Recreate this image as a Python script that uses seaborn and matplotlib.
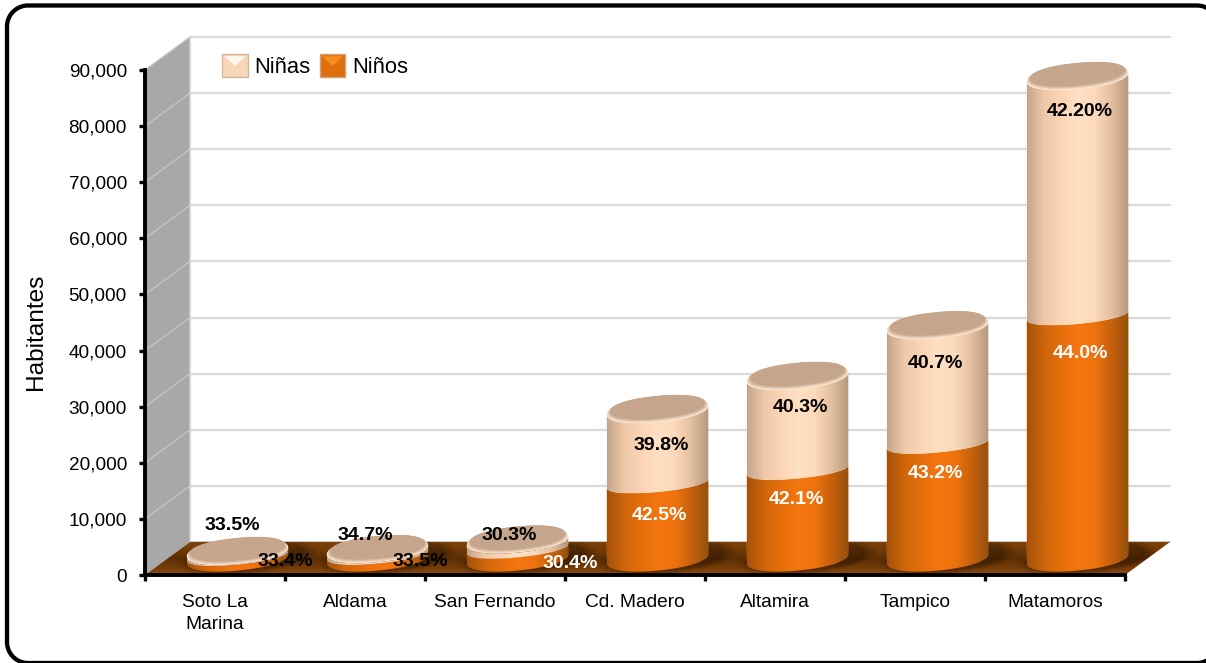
import numpy as np
import matplotlib
matplotlib.use("Agg")
import matplotlib.pyplot as plt
from matplotlib.colors import LinearSegmentedColormap, to_rgb
from matplotlib.legend_handler import HandlerBase
from matplotlib.patches import Patch, PathPatch, Polygon
from matplotlib.path import Path
from matplotlib.ticker import FuncFormatter
from matplotlib.transforms import IdentityTransform
import seaborn as sns

# ---- data ----
categories = ["Soto La\nMarina", "Aldama", "San Fernando", "Cd. Madero", "Altamira", "Tampico", "Matamoros"]
ninos = np.array([500, 700, 1800, 13460, 15860, 20500, 43400])
ninas = np.array([650, 800, 1400, 13000, 16500, 20900, 42400])
ninos_pct = ["33.4%", "33.5%", "30.4%", "42.5%", "42.1%", "43.2%", "44.0%"]
ninas_pct = ["33.5%", "34.7%", "30.3%", "39.8%", "40.3%", "40.7%", "42.20%"]
ninos_label_colors = ["black", "black", "white", "white", "white", "white", "white"]
series_names = ["Niñas", "Niños"]
y_ticks = np.arange(0, 90001, 10000)

# ---- layout (reference pixels, origin top left) ----
W, H = 1206, 663
PLOT_L, PLOT_R, PLOT_T, PLOT_B = 145, 1125, 70, 575
DEPTH_X, DEPTH_Y = 45, 33
ELL_A, ELL_B, ELL_TILT, ELL_POWER = 51, 12, np.deg2rad(5.5), 0.92
ninos_label_px = [(285, 561), (420, 561), (570, 563), (659, 515), (796, 499), (935, 474), (1080, 353)]
ninas_label_px = [(232, 526), (365, 536), (509, 535), (661, 446), (800, 407), (935, 363), (1080, 112)]

ORANGE_STOPS = ["#A5520A", "#CF660B", "#E56E0B", "#F5760F", "#EE720E", "#C5610C", "#93500F"]
PEACH_STOPS = ["#C4A58C", "#EEC8A8", "#FBD5B5", "#FFE0C3", "#FBD9BA", "#E3BFA0", "#B3977E"]
TOP_LIP, TOP_FACE = "#FEE8D4", "#C5A68C"

sns.set_theme(style="white")
plt.rcParams["font.family"] = ["Liberation Sans", "DejaVu Sans"]

fig = plt.figure(figsize=(W / 100, H / 100), dpi=100, facecolor="white")
pos = [PLOT_L / W, 1 - PLOT_B / H, (PLOT_R - PLOT_L) / W, (PLOT_B - PLOT_T) / H]
ax = fig.add_axes(pos, zorder=1)
bar_ax = fig.add_axes([pos[0] + DEPTH_X / 2 / W, pos[1] + DEPTH_Y / 2 / H, pos[2], pos[3]], zorder=2)
bar_ax.patch.set_alpha(0)
PX = IdentityTransform()


def gradient(target, path, stops, zorder, vertical=False):
    xmin, ymin = path.vertices.min(axis=0)
    xmax, ymax = path.vertices.max(axis=0)
    ramp = np.linspace(0, 1, 256)
    arr = ramp[::-1].reshape(-1, 1) if vertical else ramp.reshape(1, -1)
    cmap = LinearSegmentedColormap.from_list("g", stops)
    im = target.imshow(arr, cmap=cmap, extent=(xmin, xmax, ymin, ymax), transform=PX,
                       aspect="auto", zorder=zorder, interpolation="bilinear")
    im.set_clip_box(fig.bbox)
    im.set_clip_path(path, PX)
    return im


def ellipse_pts(c, t0, t1, scale=1.0, bulge=1.0, n=90):
    t = np.linspace(t0, t1, n)
    cs, sn = np.cos(t), np.sin(t)
    ex = ELL_A * scale * np.sign(cs) * np.abs(cs) ** ELL_POWER
    ey = ELL_B * scale * bulge * np.sign(sn) * np.abs(sn) ** ELL_POWER
    return np.column_stack([c[0] + ex * np.cos(ELL_TILT) - ey * np.sin(ELL_TILT),
                            c[1] + ex * np.sin(ELL_TILT) + ey * np.cos(ELL_TILT)])


def cylinder_path(lo, hi, lo_bulge, hi_bulge):
    pts = np.vstack([ellipse_pts(lo, np.pi, 2 * np.pi, bulge=lo_bulge),
                     ellipse_pts(hi, 2 * np.pi, np.pi, bulge=hi_bulge)])
    return Path(np.vstack([pts, pts[:1]]), closed=True)


# ---- main axes: scale, ticks, walls, floor ----
ax.set_xlim(-0.5, 6.5)
ax.set_ylim(0, 90000)
ax.patch.set_alpha(0)
for s in ("top", "right"):
    ax.spines[s].set_visible(False)
for s in ("left", "bottom"):
    ax.spines[s].set_color("black")
    ax.spines[s].set_linewidth(2.8)
    ax.spines[s].set_zorder(5)
ax.set_yticks(y_ticks)
ax.yaxis.set_major_formatter(FuncFormatter(lambda v, _: f"{int(v):,}"))
ax.set_xticks(np.arange(-0.5, 7, 1))
ax.set_xticklabels([])
ax.set_xticks(np.arange(7), labels=categories, minor=True, linespacing=1.38)
ax.tick_params(axis="y", which="major", left=True, length=4, width=2.4, color="black", pad=9,
               labelsize=13.7, labelcolor="black")
ax.tick_params(axis="x", which="major", bottom=True, length=4, width=2.4, color="black")
ax.tick_params(axis="x", which="minor", bottom=False, length=0, pad=13.5, labelsize=13.8, labelcolor="black")
ax.set_ylabel("Habitantes", fontsize=17.6, color="black")
ax.yaxis.set_label_coords(-0.1, 0.481)

x0, y0 = ax.transData.transform((-0.5, 0))
x1, _ = ax.transData.transform((6.5, 0))
wall_top = ax.transData.transform((-0.5, 90000))[1]
wall = Polygon([(x0, y0), (x0 + DEPTH_X, y0 + DEPTH_Y), (x0 + DEPTH_X, wall_top + DEPTH_Y), (x0, wall_top)],
               closed=True, transform=PX, fc="#A8A8A8", ec="none", clip_on=False, zorder=1)
ax.add_patch(wall)
for v in y_ticks:
    yy = ax.transData.transform((0, v))[1]
    if v > 0:
        ax.plot([x0, x0 + DEPTH_X], [yy, yy + DEPTH_Y], transform=PX, color="#C4C4C4", lw=1.0,
                clip_on=False, zorder=1.5)
        ax.plot([x0 + DEPTH_X, x1 + DEPTH_X], [yy + DEPTH_Y] * 2, transform=PX, color="#D9D9D9", lw=1.6,
                clip_on=False, zorder=1.5)
ax.plot([x0 + DEPTH_X, x1 + DEPTH_X], [y0 + DEPTH_Y] * 2, transform=PX, color="#BDBDBD", lw=1.2,
        clip_on=False, zorder=1.5)
ax.plot([x0 + DEPTH_X] * 2, [y0 + DEPTH_Y, wall_top + DEPTH_Y], transform=PX, color="#D0D0D0", lw=1.2,
        clip_on=False, zorder=1.5)

floor_path = Path([(x0, y0), (x0 + DEPTH_X, y0 + DEPTH_Y), (x1 + DEPTH_X, y0 + DEPTH_Y), (x1, y0), (x0, y0)])
gradient(ax, floor_path, ["#8A4B10", "#733B08", "#5C2E04", "#703A07", "#7F430A"], 2, vertical=True)

# ---- bars ----
sns.barplot(x=categories, y=ninos, color=ORANGE_STOPS[3], width=0.73, saturation=1, ax=bar_ax)
sns.barplot(x=categories, y=ninas, bottom=ninos, color=PEACH_STOPS[3], width=0.73, saturation=1, ax=bar_ax)
bar_ax.set_xlim(-0.5, 6.5)
bar_ax.set_ylim(0, 90000)
bar_ax.axis("off")

patches = list(bar_ax.patches)
n = len(categories)

# soft shadows on the floor, next to each cylinder base
for p in patches[:n]:
    base = bar_ax.transData.transform((p.get_x() + p.get_width() / 2, p.get_y()))
    for s, a in ((1.34, 0.08), (1.25, 0.1), (1.15, 0.14)):
        pts = ellipse_pts((base[0] + 10, base[1] + 1), 0, 2 * np.pi, scale=s)
        shadow = Polygon(pts, closed=True, transform=PX, fc="black", alpha=a, ec="none", zorder=2.5)
        ax.add_patch(shadow)
        shadow.set_clip_box(fig.bbox)
        shadow.set_clip_path(floor_path, PX)

for group, stops, z, lo_b, hi_b in ((patches[:n], ORANGE_STOPS, 3, 1.0, 0.75),
                                    (patches[n:], PEACH_STOPS, 4, 0.75, 1.0)):
    for p in group:
        cx = p.get_x() + p.get_width() / 2
        lo = bar_ax.transData.transform((cx, p.get_y()))
        hi = bar_ax.transData.transform((cx, p.get_y() + p.get_height()))
        path = cylinder_path(lo, hi, lo_b, hi_b)
        p.set_edgecolor("none")
        p.set_zorder(z - 0.4)
        p.set_clip_path(path, PX)
        gradient(bar_ax, path, stops, z)

lip, face = np.array(to_rgb(TOP_LIP)), np.array(to_rgb(TOP_FACE))
for p in patches[n:]:
    cx = p.get_x() + p.get_width() / 2
    hi = bar_ax.transData.transform((cx, p.get_y() + p.get_height()))
    for k, f in enumerate(np.linspace(0, 1, 10)):
        c = (hi[0], hi[1] + 3.0 * f)
        pts = ellipse_pts(c, 0, 2 * np.pi, scale=1 - 0.07 * f)
        shade = lip + (face - lip) * f
        bar_ax.add_patch(Polygon(pts, closed=True, transform=PX, fc=shade, ec="none",
                                 clip_on=False, zorder=5 + k * 0.01))
bar_ax.set_xlim(-0.5, 6.5)
bar_ax.set_ylim(0, 90000)
ax.set_xlim(-0.5, 6.5)
ax.set_ylim(0, 90000)

# ---- data labels ----
for txt, (lx, ly), col in zip(ninos_pct, ninos_label_px, ninos_label_colors):
    fig.text(lx / W, 1 - ly / H, txt, ha="center", va="center", fontsize=14, fontweight="bold", color=col, zorder=10)
for txt, (lx, ly) in zip(ninas_pct, ninas_label_px):
    fig.text(lx / W, 1 - ly / H, txt, ha="center", va="center", fontsize=14, fontweight="bold", color="black", zorder=10)


# ---- legend with bevelled swatches ----
class Bevel(HandlerBase):
    def __init__(self, body, top, edge):
        super().__init__()
        self.body, self.top, self.edge = body, top, edge

    def create_artists(self, legend, orig, xd, yd, w, h, fontsize, trans):
        x, y = -xd, -yd
        square = [(x, y + h), (x + w, y + h), (x + w, y), (x, y)]
        arts = [Polygon(square, closed=True, fc=self.body, ec="none", transform=trans)]
        arts.append(Polygon([(x + 0.1 * w, y + 0.92 * h), (x + 0.9 * w, y + 0.92 * h), (x + w / 2, y + 0.48 * h)],
                            closed=True, fc=self.top, ec="none", transform=trans))
        arts.append(Polygon(square, closed=True, fc="none", ec=self.edge, lw=1.0, transform=trans))
        return arts


h_nina, h_nino = Patch(label=series_names[0]), Patch(label=series_names[1])
leg = fig.legend(handles=[h_nina, h_nino], ncol=2, loc="lower left",
                 bbox_to_anchor=(222 / W, 1 - 78 / H), frameon=False, fontsize=15.8,
                 borderpad=0, borderaxespad=0, handlelength=1.18, handleheight=1.18,
                 handletextpad=0.3, columnspacing=0.41, labelcolor="black",
                 handler_map={h_nina: Bevel("#F8D6B8", "#FFF8F0", "#D2B6A0"),
                              h_nino: Bevel("#DF6E0D", "#F98A1F", "#D0A078")})
leg.set_zorder(10)

# ---- rounded outer frame (runs past the right edge of the picture) ----
FR_L, FR_R, FR_T, FR_B, FR_RAD = 7, 1218, H - 5.5, H - 663, 21
arc = np.linspace(0, np.pi / 2, 24)
corners = [(FR_R - FR_RAD, FR_T - FR_RAD, arc), (FR_L + FR_RAD, FR_T - FR_RAD, arc + np.pi / 2),
           (FR_L + FR_RAD, FR_B + FR_RAD, arc + np.pi), (FR_R - FR_RAD, FR_B + FR_RAD, arc + 1.5 * np.pi)]
frame_pts = np.vstack([np.column_stack([cx + FR_RAD * np.cos(a), cy + FR_RAD * np.sin(a)]) for cx, cy, a in corners])
frame_pts = np.vstack([frame_pts, frame_pts[:1]])
fig.add_artist(PathPatch(Path(frame_pts), transform=PX, fc="none", ec="black", lw=3.1, zorder=20))

fig.savefig("out.png", dpi=100, facecolor="white")
